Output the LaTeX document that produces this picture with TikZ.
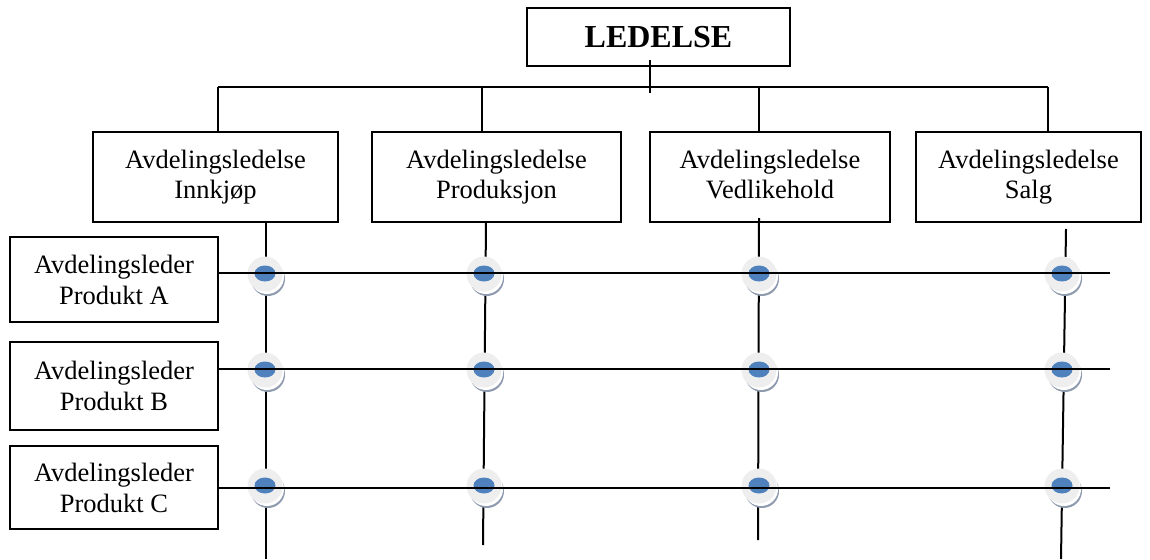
\documentclass[tikz,border=0pt]{standalone}
\usepackage{fontspec}
\setmainfont{Liberation Serif}
\begin{document}
\begin{tikzpicture}[x=1pt,y=-1pt,
  box/.style={draw, line width=2.2pt, align=center, inner sep=0pt,
    font=\fontsize{26.5}{30}\selectfont},
  leftbox/.style={box, font=\fontsize{26.5}{31}\selectfont},
  wire/.style={line width=2pt}
]
\useasboundingbox (0,0) rectangle (1150,559);
\definecolor{dotblue}{HTML}{4F81BD}
\definecolor{dotgrey}{HTML}{EEEEEF}
\definecolor{dotshade}{HTML}{8E9AAE}

% top management
\node[box, minimum width=263pt, minimum height=58pt,
  font=\fontsize{32}{36}\selectfont\bfseries] (led) at (658.5,37) {LEDELSE};

% department heads
\node[box, minimum width=245pt, minimum height=90pt] (d1) at (215.5,177) {Avdelingsledelse\\Innkjøp};
\node[box, minimum width=249pt, minimum height=90pt] (d2) at (496.5,177) {Avdelingsledelse\\Produksjon};
\node[box, minimum width=240pt, minimum height=90pt] (d3) at (770,177) {Avdelingsledelse\\Vedlikehold\vphantom{j}};
\node[box, minimum width=225pt, minimum height=90pt] (d4) at (1028.5,177) {Avdelingsledelse\\Salg};

% product managers
\node[leftbox, minimum width=208pt, minimum height=85pt] (pa) at (114,279.5) {Avdelingsleder\\Produkt A};
\node[leftbox, minimum width=208pt, minimum height=88pt] (pb) at (114,386) {Avdelingsleder\\Produkt B};
\node[leftbox, minimum width=208pt, minimum height=83pt] (pc) at (114,487.5) {Avdelingsleder\\Produkt C};

% bus below the top box
\coordinate (stubtop) at (650,60);
\coordinate (stubbot) at (650,93);
\coordinate (bus1) at (218,87);
\coordinate (bus2) at (482,87);
\coordinate (bus3) at (759,87);
\coordinate (bus4) at (1048,87);
\draw[wire] (stubtop) -- (stubbot);
\draw[wire] (bus1) -- (bus4);
\draw[wire] (bus1) -- (bus1 |- d1.north);
\draw[wire] (bus2) -- (bus2 |- d2.north);
\draw[wire] (bus3) -- (bus3 |- d3.north);
\draw[wire] (bus4) -- (bus4 |- d4.north);

% department columns
\coordinate (c1t) at (266,222); \coordinate (c1b) at (266,559);
\coordinate (c2t) at (486,222); \coordinate (c2b) at (483,545);
\coordinate (c3t) at (759,218); \coordinate (c3b) at (758,540);
\coordinate (c4t) at (1066,229); \coordinate (c4b) at (1061,559);
\draw[wire] (c1t) -- (c1b);
\draw[wire] (c2t) -- (c2b);
\draw[wire] (c3t) -- (c3b);
\draw[wire] (c4t) -- (c4b);

% matrix junctions
\foreach \y in {274,370,486}{
  \foreach \x in {265,484,759,1062}{
    \fill[dotshade] (\x+3,\y+5) circle (17);
    \fill[white] (\x+2,\y+3) circle (17);
    \fill[dotgrey] (\x,\y) circle (17.5);
    \fill[dotblue] (\x,\y-0.5) ellipse (10.5 and 8);
  }
}

% product rows
\coordinate (ra) at (1110,273);
\coordinate (rb) at (1110,369);
\coordinate (rc) at (1110,488);
\draw[wire] (pa.east |- ra) -- (ra);
\draw[wire] (pb.east |- rb) -- (rb);
\draw[wire] (pc.east |- rc) -- (rc);
\end{tikzpicture}
\end{document}
